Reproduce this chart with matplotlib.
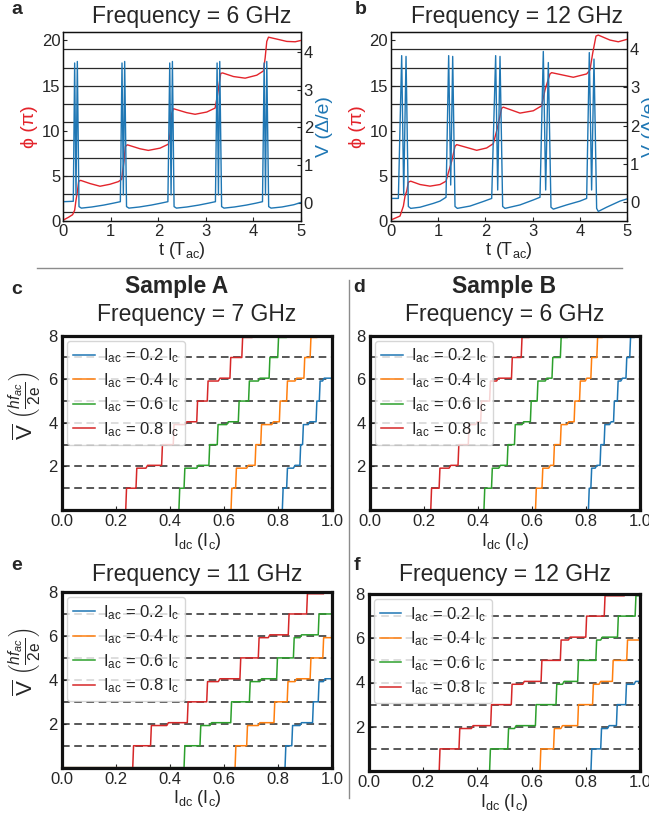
import numpy as np
import matplotlib
matplotlib.use('Agg')
import matplotlib.pyplot as plt
from matplotlib.lines import Line2D

plt.rcParams['font.family'] = ['Liberation Sans', 'DejaVu Sans']
plt.rcParams['mathtext.fontset'] = 'custom'
plt.rcParams['mathtext.rm'] = 'Liberation Sans'
plt.rcParams['mathtext.it'] = 'Liberation Sans:italic'
plt.rcParams['mathtext.bf'] = 'Liberation Sans:bold'
plt.rcParams['mathtext.default'] = 'regular'

# ---- panels a / b : phase and voltage vs time ----
a_phase_t = [0.0, 0.105, 0.196, 0.239, 0.267, 0.295, 0.323, 0.365, 0.561, 0.772, 0.982, 1.158, 1.228, 1.249,
             1.277, 1.305, 1.347, 1.614, 1.789, 2.035, 2.21, 2.246, 2.281, 2.316, 2.596, 2.772, 3.018, 3.193,
             3.242, 3.284, 3.312, 3.35, 3.58, 3.825, 4.07, 4.21, 4.246, 4.28, 4.316, 4.49, 4.7, 4.877, 5.0]
a_phase = [0.1, 0.4, 0.7, 1.2, 2.3, 3.2, 4.4, 4.5, 4.15, 3.85, 4.07, 4.36, 4.62, 5.53,
           6.62, 8.25, 8.44, 8.0, 7.82, 8.07, 8.51, 9.71, 11.89, 12.44, 12.0, 11.82, 12.07, 12.51,
           13.89, 15.35, 16.35, 16.4, 16.0, 15.82, 16.15, 16.62, 18.07, 19.89, 20.36, 20.15, 19.89, 19.85, 20.0]
a_volt_t = [0.0, 0.21, 0.239, 0.267, 0.295, 0.33, 0.38, 0.60, 0.85, 1.05,
            1.20, 1.235, 1.263, 1.291, 1.33, 1.38, 1.60, 1.85, 2.05,
            2.20, 2.239, 2.267, 2.295, 2.33, 2.38, 2.60, 2.85, 3.05,
            3.20, 3.235, 3.263, 3.291, 3.33, 3.38, 3.60, 3.85, 4.05,
            4.19, 4.225, 4.253, 4.28, 4.32, 4.37, 4.60, 4.85, 5.0]
a_volt = [0.04, 0.05, 3.70, 0.22, 3.74, -0.09, -0.13, -0.10, -0.05, 0.0,
          0.04, 3.70, 0.22, 3.74, -0.09, -0.13, -0.10, -0.05, 0.0,
          0.04, 3.70, 0.22, 3.74, -0.09, -0.13, -0.10, -0.05, 0.0,
          0.04, 3.70, 0.22, 3.74, -0.09, -0.13, -0.10, -0.05, 0.0,
          0.04, 3.70, 0.22, 3.74, -0.09, -0.13, -0.10, -0.04, 0.02]

b_phase_t = [0.0, 0.197, 0.268, 0.303, 0.338, 0.373, 0.423, 0.62, 0.831, 1.042, 1.169, 1.218, 1.289, 1.359,
             1.394, 1.817, 2.028, 2.169, 2.254, 2.345, 2.38, 2.732, 3.014, 3.19, 3.261, 3.366, 3.401, 3.859,
             4.141, 4.211, 4.268, 4.338, 4.387, 4.634, 4.81, 4.986]
b_phase = [0.1, 0.55, 1.65, 2.76, 3.31, 4.3, 4.41, 4.04, 3.86, 4.04, 4.41, 5.33, 6.62, 8.27,
           8.46, 7.83, 8.09, 8.57, 10.29, 12.5, 12.61, 11.95, 12.21, 12.76, 14.52, 16.29, 16.43, 15.92,
           16.29, 16.73, 18.57, 20.48, 20.59, 20.04, 19.85, 20.11]
b_volt_t = [0.0, 0.162, 0.232, 0.275, 0.324, 0.373, 0.423, 0.62, 0.901, 1.042, 1.169,
            1.225, 1.268, 1.31, 1.359, 1.408, 1.676, 1.958, 2.134,
            2.218, 2.261, 2.31, 2.366, 2.415, 2.732, 3.014, 3.155,
            3.225, 3.275, 3.331, 3.387, 3.437, 3.718, 4.0, 4.141,
            4.197, 4.246, 4.296, 4.352, 4.387, 4.563, 4.845, 5.0]
b_volt = [0.10, 0.10, 3.83, 0.19, 3.81, -0.11, -0.16, -0.13, -0.03, 0.03, 0.13,
          3.83, 0.45, 3.81, -0.11, -0.16, -0.10, 0.02, 0.10,
          3.83, 0.32, 3.81, -0.11, -0.16, -0.07, 0.06, 0.13,
          3.94, 0.32, 3.65, -0.13, -0.18, -0.07, 0.03, 0.10,
          3.91, 0.32, 3.74, -0.16, -0.24, -0.13, 0.03, 0.09]
phase_lines = [1, 3, 5, 7, 9, 11, 13, 15, 17, 19]

# ---- panels c-f : Shapiro steps ----
iac_labels = [r'$I_{ac}$ = 0.2 $I_c$', r'$I_{ac}$ = 0.4 $I_c$', r'$I_{ac}$ = 0.6 $I_c$', r'$I_{ac}$ = 0.8 $I_c$']
step_levels = [1, 2, 3, 4, 5, 6, 7]
# x where the mean voltage jumps n -> n+1 ; sub-steps on the even plateaus ; last x
c_rise = [[0.816, 0.832, 0.881, 0.891, 0.941, 0.953],
          [0.626, 0.643, 0.715, 0.736, 0.805, 0.832, 0.896, 0.919],
          [0.433, 0.452, 0.544, 0.575, 0.653, 0.691, 0.767, 0.799],
          [0.236, 0.274, 0.369, 0.412, 0.499, 0.538, 0.622, 0.666]]
c_sub = [[0.857, 0.912, 0.965], [0.684, 0.777, 0.863], [0.499, 0.61, 0.727], [0.311, 0.456, 0.579]]
c_end = [1.0, 0.943, 0.83, 0.703]

d_rise = [[0.809, 0.818, 0.852, 0.867, 0.902, 0.916, 0.948, 0.962],
          [0.613, 0.637, 0.680, 0.705, 0.756, 0.776, 0.818, 0.840],
          [0.422, 0.450, 0.508, 0.535, 0.594, 0.619, 0.674, 0.705],
          [0.225, 0.256, 0.326, 0.364, 0.410, 0.443, 0.524, 0.560]]
d_sub = [[0.834, 0.887, 0.929], [0.662, 0.730, 0.797], [0.477, 0.563, 0.649], [0.293, 0.391, 0.469]]
d_end = [0.978, 0.859, 0.730, 0.588]

e_rise = [[0.826, 0.851, 0.928, 0.949],
          [0.641, 0.684, 0.785, 0.834, 0.919, 0.966],
          [0.452, 0.511, 0.625, 0.694, 0.795, 0.857, 0.949],
          [0.262, 0.328, 0.464, 0.536, 0.659, 0.727, 0.838, 0.906]]
e_sub = [[0.881, 0.968], [0.727, 0.863], [0.548, 0.733, 0.881], [0.388, 0.579, 0.764]]
e_end = [1.0, 1.0, 1.0, 0.968]

f_rise = [[0.819, 0.855, 0.913, 0.947],
          [0.631, 0.681, 0.770, 0.825, 0.898, 0.951],
          [0.445, 0.512, 0.614, 0.690, 0.770, 0.837, 0.917, 0.982],
          [0.259, 0.332, 0.449, 0.525, 0.635, 0.706, 0.800, 0.868]]
f_sub = [[0.880, 0.978], [0.708, 0.849], [0.537, 0.714, 0.855], [0.378, 0.567, 0.736]]
f_end = [1.0, 1.0, 1.0, 0.941]

W, H = 649, 815
TXT = '#262626'
RED = '#e3242b'
BLUE = '#1f77b4'
STEP_COLORS = ['#1f77b4', '#ff7f0e', '#2ca02c', '#d62728']

fig = plt.figure(figsize=(W / 100, H / 100), dpi=100)


def px_rect(l, t, r, b):
    return [l / W, 1 - b / H, (r - l) / W, (b - t) / H]


def ftext(x, y, s, **kw):
    fig.text(x / W, 1 - y / H, s, ha='center', va='center', color=TXT, **kw)


def staircase(rise, sub, end):
    xs, ys = [0.0], [0.0]
    y = 0.0
    for i, x0 in enumerate(rise):
        n = i + 1
        xs.append(x0)
        ys.append(y)
        x_next = rise[i + 1] if i + 1 < len(rise) else end
        if n % 2 == 0:
            y = n - 0.08
            xs.append(x0 + 0.003)
            ys.append(y)
            k = n // 2 - 1
            if k < len(sub) and sub[k] < x_next:
                xs += [sub[k], sub[k] + 0.006]
                ys += [y, n + 0.05]
                y = n + 0.05
        else:
            y = n
            xs.append(x0 + 0.003)
            ys.append(y)
    xs.append(end)
    ys.append(y)
    return xs, ys


def time_panel(rect, pt, ph, vt, vv, vlim):
    ax = fig.add_axes(px_rect(*rect))
    for p in phase_lines:
        ax.axhline(p, color='#2a2a2a', lw=0.9, zorder=1)
    ax.plot(pt, ph, color=RED, lw=1.0, zorder=3)
    ax.set_xlim(0, 5)
    ax.set_ylim(0, 20.9)
    ax.set_yticks([0, 5, 10, 15, 20])
    ax.set_xticks([0, 1, 2, 3, 4, 5])
    ax.tick_params(direction='in', length=3, labelsize=12, pad=2, colors=TXT)
    ax.set_xlabel(r't ($T_{ac}$)', fontsize=13, color=TXT, labelpad=1)
    ax.set_ylabel('ϕ (π)', fontsize=14, color=RED)
    ax.yaxis.set_label_coords(-0.105, 0.5)
    ax2 = ax.twinx()
    ax2.plot(vt, vv, color=BLUE, lw=1.0)
    ax2.set_ylim(*vlim)
    ax2.set_yticks([0, 1, 2, 3, 4])
    ax2.tick_params(direction='in', length=3, labelsize=12, pad=2, colors=TXT)
    ax2.set_ylabel('V (Δ/e)', fontsize=14, color=BLUE, labelpad=2)
    for a in (ax, ax2):
        for s in a.spines.values():
            s.set_linewidth(0.9)
            s.set_color('#111111')


def step_panel(rect, rises, subs, ends, ylabel):
    ax = fig.add_axes(px_rect(*rect))
    for lv in step_levels:
        ax.axhline(lv, color='#2a2a2a', lw=1.1, ls=(0, (5, 3)), zorder=1)
    handles = []
    for rise, sub, end, col, lab in zip(rises, subs, ends, STEP_COLORS, iac_labels):
        xs, ys = staircase(rise, sub, end)
        ax.plot(xs, ys, color=col, lw=1.1, zorder=2)
        handles.append(Line2D([], [], color=col, lw=1.1, label=lab))
    ax.set_xlim(0, 1)
    ax.set_ylim(0, 8)
    ax.set_yticks([2, 4, 6, 8])
    ax.set_xticks([0.0, 0.2, 0.4, 0.6, 0.8, 1.0])
    ax.set_xticklabels(['0.0', '0.2', '0.4', '0.6', '0.8', '1.0'])
    ax.tick_params(direction='in', length=3, labelsize=12, pad=3, colors=TXT)
    for s in ax.spines.values():
        s.set_linewidth(2.3)
        s.set_color('#111111')
    ax.set_xlabel(r'$I_{dc}$ ($I_c$)', fontsize=13, color=TXT, labelpad=1)
    if ylabel:
        ax.set_ylabel(r'$\overline{V}\ \left(\frac{\mathit{hf_{ac}}}{2e}\right)$', fontsize=16, color=TXT)
        ax.yaxis.set_label_coords(-0.075, 0.6)
    leg = ax.legend(handles=handles, loc='upper left', fontsize=12, frameon=True, framealpha=0.8,
                    edgecolor='#cccccc', fancybox=True, handlelength=1.3, handletextpad=0.5,
                    borderpad=0.35, borderaxespad=0.3, labelspacing=0.35)
    for t in leg.get_texts():
        t.set_color(TXT)
    return ax


time_panel((63.3, 32.3, 301, 221), a_phase_t, a_phase, a_volt_t, a_volt, (-0.47, 4.51))
time_panel((390.7, 32.3, 627.3, 221), b_phase_t, b_phase, b_volt_t, b_volt, (-0.49, 4.44))

step_panel((62, 335.7, 332, 510), c_rise, c_sub, c_end, True)
step_panel((370, 335.7, 640, 510), d_rise, d_sub, d_end, False)
step_panel((62, 592, 332, 767.7), e_rise, e_sub, e_end, True)
step_panel((369, 594, 640, 771), f_rise, f_sub, f_end, False)

# titles and panel letters
ftext(192, 16, 'Frequency = 6 GHz', fontsize=16.5)
ftext(517, 16, 'Frequency = 12 GHz', fontsize=16.5)
ftext(177, 287, 'Sample A', fontsize=16.5, fontweight='bold')
ftext(504, 287, 'Sample B', fontsize=16.5, fontweight='bold')
ftext(197, 314, 'Frequency = 7 GHz', fontsize=16.5)
ftext(505, 314, 'Frequency = 6 GHz', fontsize=16.5)
ftext(197, 574, 'Frequency = 11 GHz', fontsize=16.5)
ftext(505, 574, 'Frequency = 12 GHz', fontsize=16.5)
for lx, ly, letter in [(17, 10, 'a'), (361, 9, 'b'), (17, 290, 'c'), (359, 288, 'd'), (17, 566, 'e'), (357, 566, 'f')]:
    ftext(lx, ly, letter, fontsize=14, fontweight='bold')

# separators
fig.add_artist(Line2D([37 / W, 622 / W], [1 - 268 / H, 1 - 268 / H], color='#8c8c8c', lw=1.0))
fig.add_artist(Line2D([349 / W, 349 / W], [1 - 280 / H, 1 - 798 / H], color='#8c8c8c', lw=1.0))

fig.savefig('out.png', dpi=100)
